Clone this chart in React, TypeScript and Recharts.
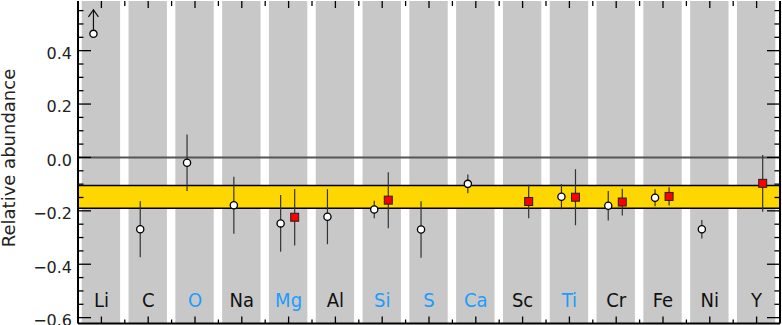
import {
  ComposedChart,
  ErrorBar,
  ReferenceArea,
  ReferenceLine,
  Scatter,
  XAxis,
  YAxis,
} from "recharts";

// element order along the x axis
const elements = ["Li", "C", "O", "Na", "Mg", "Al", "Si", "S", "Ca", "Sc", "Ti", "Cr", "Fe", "Ni", "Y"];
const blueElements = ["O", "Mg", "Si", "S", "Ca", "Ti"];

// open circles
const circleElements = ["Li", "C", "O", "Na", "Mg", "Al", "Si", "S", "Ca", "Ti", "Cr", "Fe", "Ni"];
const circleValues = [0.463, -0.269, -0.02, -0.179, -0.247, -0.222, -0.195, -0.27, -0.099, -0.147, -0.181, -0.151, -0.269];
const circleErrors = [0, 0.105, 0.106, 0.107, 0.106, 0.103, 0.033, 0.106, 0.035, 0.047, 0.055, 0.032, 0.035];
const lowerLimits = ["Li"];

// red squares
const squareElements = ["Mg", "Si", "Sc", "Ti", "Cr", "Fe", "Y"];
const squareValues = [-0.224, -0.16, -0.165, -0.149, -0.167, -0.146, -0.097];
const squareErrors = [0.106, 0.105, 0.063, 0.105, 0.05, 0.034, 0.106];

// mean band
const bandLow = -0.19;
const bandHigh = -0.105;

const yMajorTicks = [-0.6, -0.4, -0.2, 0, 0.2, 0.4];

const X_DOMAIN: [number, number] = [-0.5, elements.length - 0.5];
const Y_DOMAIN: [number, number] = [-0.622, 0.586];
const CIRCLE_SHIFT = -0.17;
const SQUARE_SHIFT = 0.13;

const FONT = "'DejaVu Sans', sans-serif";
const LABEL_FONT = "'DejaVu Sans Condensed', 'DejaVu Sans', sans-serif";

const circleData = circleElements.map((el, i) => ({
  x: elements.indexOf(el) + CIRCLE_SHIFT,
  y: circleValues[i],
  err: circleErrors[i],
  limit: lowerLimits.includes(el),
}));

const squareData = squareElements.map((el, i) => ({
  x: elements.indexOf(el) + SQUARE_SHIFT,
  y: squareValues[i],
  err: squareErrors[i],
}));

const xTicks = elements.flatMap((_, i) => (i < elements.length - 1 ? [i, i + 0.5] : [i]));
const yTicks = Array.from({ length: 24 }, (_, k) => Math.round((-0.6 + k * 0.05) * 100) / 100);

const isMajorY = (v: number) => yMajorTicks.some((m) => Math.abs(m - v) < 1e-6);
const fmtY = (v: number) => (v < 0 ? "\u2212" : "") + Math.abs(v).toFixed(1);

function BottomTick({ x, y, payload }: any) {
  const v = payload.value;
  const major = Number.isInteger(v);
  const name = major ? elements[v] : null;
  return (
    <g>
      <line x1={x} x2={x} y1={y} y2={y - (major ? 7 : 4)} stroke="#000" strokeWidth={1.3} />
      {name && (
        <text
          x={x}
          y={y - 16.5}
          textAnchor="middle"
          fontFamily={LABEL_FONT}
          fontSize={20}
          fill={blueElements.includes(name) ? "#1c9cff" : "#111"}
        >
          {name}
        </text>
      )}
    </g>
  );
}

function TopTick({ x, y, payload }: any) {
  const major = Number.isInteger(payload.value);
  return <line x1={x} x2={x} y1={y} y2={y + (major ? 7 : 5)} stroke="#000" strokeWidth={1.3} />;
}

function LeftTick({ x, y, payload }: any) {
  const major = isMajorY(payload.value);
  return (
    <g>
      <line x1={x} x2={x + (major ? 13 : 5.5)} y1={y} y2={y} stroke="#000" strokeWidth={1.3} />
      {major && (
        <text x={x - 6} y={y + 8.3} textAnchor="end" fontFamily={FONT} fontSize={16} fill="#222">
          {fmtY(payload.value)}
        </text>
      )}
    </g>
  );
}

function RightTick({ x, y, payload }: any) {
  const major = isMajorY(payload.value);
  return <line x1={x} x2={x - (major ? 13 : 5.5)} y1={y} y2={y} stroke="#000" strokeWidth={1.3} />;
}

function AxisTitle() {
  return (
    <text
      x={15}
      y={158}
      transform="rotate(-90 15 158)"
      textAnchor="middle"
      fontFamily={FONT}
      fontSize={18}
      fill="#222"
    >
      Relative abundance
    </text>
  );
}

function CircleMark({ cx, cy, payload }: any) {
  return (
    <g>
      {payload.limit && (
        <g stroke="#111" strokeWidth={1.2} fill="none">
          <line x1={cx} x2={cx} y1={cy - 4} y2={cy - 24} />
          <polyline points={`${cx - 5},${cy - 17} ${cx},${cy - 24} ${cx + 5},${cy - 17}`} />
        </g>
      )}
      <circle cx={cx} cy={cy} r={3.6} fill="#fff" stroke="#000" strokeWidth={1.3} />
    </g>
  );
}

function SquareMark({ cx, cy }: any) {
  return <rect x={cx - 4} y={cy - 4} width={8} height={8} fill="#ff0000" stroke="#222" strokeWidth={1} />;
}

export default function App() {
  return (
    <div style={{ position: "absolute", left: 0, top: 0, width: 782, height: 325, background: "#fff" }}>
      <ComposedChart width={782} height={325} margin={{ top: 0, right: 0, bottom: 0.5, left: 0 }}>
        <XAxis
          xAxisId="b"
          dataKey="x"
          type="number"
          domain={X_DOMAIN}
          allowDataOverflow
          ticks={xTicks}
          interval={0}
          height={1}
          tickSize={0}
          tickMargin={0}
          tick={<BottomTick />}
          tickLine={false}
          axisLine={{ stroke: "#000", strokeWidth: 2 }}
        />
        <XAxis
          xAxisId="t"
          orientation="top"
          dataKey="x"
          type="number"
          domain={X_DOMAIN}
          allowDataOverflow
          ticks={xTicks}
          interval={0}
          height={1}
          tickSize={0}
          tickMargin={0}
          tick={<TopTick />}
          tickLine={false}
          axisLine={false}
        />
        <YAxis
          yAxisId="l"
          dataKey="y"
          type="number"
          domain={Y_DOMAIN}
          allowDataOverflow
          ticks={yTicks}
          interval={0}
          width={78}
          tickSize={0}
          tickMargin={0}
          tick={<LeftTick />}
          tickLine={false}
          axisLine={{ stroke: "#000", strokeWidth: 2 }}
          label={<AxisTitle />}
        />
        <YAxis
          yAxisId="r"
          orientation="right"
          dataKey="y"
          type="number"
          domain={Y_DOMAIN}
          allowDataOverflow
          ticks={yTicks}
          interval={0}
          width={2}
          tickSize={0}
          tickMargin={0}
          tick={<RightTick />}
          tickLine={false}
          axisLine={{ stroke: "#000", strokeWidth: 2 }}
        />

        {elements.map((el, i) => (
          <ReferenceArea
            key={el}
            xAxisId="b"
            yAxisId="l"
            x1={i - 0.42}
            x2={i + 0.4}
            fill="#c8c8c8"
            fillOpacity={1}
            stroke="none"
          />
        ))}
        <ReferenceArea xAxisId="b" yAxisId="l" y1={bandLow} y2={bandHigh} fill="#ffd700" fillOpacity={1} stroke="none" />
        <ReferenceLine xAxisId="b" yAxisId="l" y={bandHigh} stroke="#000" strokeWidth={1.5} />
        <ReferenceLine xAxisId="b" yAxisId="l" y={bandLow} stroke="#000" strokeWidth={1.5} />
        <ReferenceLine xAxisId="b" yAxisId="l" y={0} stroke="#555" strokeWidth={2} />

        <Scatter xAxisId="b" yAxisId="l" data={circleData} shape={<CircleMark />} isAnimationActive={false}>
          <ErrorBar dataKey="err" direction="y" width={0} stroke="#333" strokeWidth={1.2} />
        </Scatter>
        <Scatter xAxisId="b" yAxisId="l" data={squareData} shape={<SquareMark />} isAnimationActive={false}>
          <ErrorBar dataKey="err" direction="y" width={0} stroke="#333" strokeWidth={1.2} />
        </Scatter>
      </ComposedChart>
    </div>
  );
}
